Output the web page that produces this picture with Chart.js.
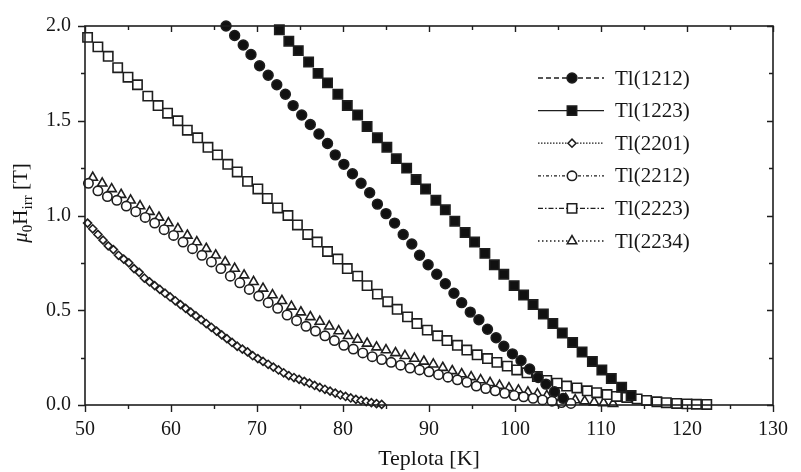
<!DOCTYPE html>
<html>
<head>
<meta charset="utf-8">
<script src="https://cdn.jsdelivr.net/npm/chart.js@4.4.1/dist/chart.umd.min.js"></script>
<style>
  body { margin: 0; background: #fff; }
  #wrap { width: 801px; height: 472px; }
</style>
</head>
<body>
<div id="wrap"><canvas id="myChart" width="801" height="472"></canvas></div>
<script>
// temperatures [K] and irreversibility field [T] per sample
var t1212 = [66.4, 67.4, 68.4, 69.3, 70.3, 71.3, 72.3, 73.3, 74.2, 75.2, 76.2, 77.2, 78.2, 79.1, 80.1, 81.1, 82.1, 83.1, 84.0, 85.0,
    86.0, 87.0, 88.0, 88.9, 89.9, 90.9, 91.9, 92.9, 93.8, 94.8, 95.8, 96.8, 97.8, 98.7, 99.7, 100.7, 101.7, 102.7, 103.6, 104.6, 105.6];
var h1212 = [2.00, 1.95, 1.90, 1.85, 1.79, 1.74, 1.69, 1.64, 1.58, 1.53, 1.48, 1.43, 1.38, 1.32, 1.27, 1.22, 1.17, 1.12, 1.06, 1.01,
    0.96, 0.90, 0.85, 0.79, 0.74, 0.69, 0.64, 0.59, 0.54, 0.49, 0.45, 0.40, 0.355, 0.31, 0.27, 0.235, 0.19, 0.145, 0.11, 0.07, 0.035];

var t1223 = [72.6, 73.7, 74.8, 76.0, 77.1, 78.2, 79.4, 80.5, 81.7, 82.8, 84.0, 85.1, 86.2, 87.4, 88.5, 89.6, 90.8, 91.9, 93.0, 94.2,
    95.3, 96.5, 97.6, 98.7, 99.9, 101.0, 102.1, 103.3, 104.4, 105.5, 106.7, 107.8, 109.0, 110.1, 111.2, 112.4, 113.5];
var h1223 = [1.98, 1.92, 1.87, 1.81, 1.75, 1.70, 1.64, 1.58, 1.53, 1.47, 1.41, 1.36, 1.30, 1.25, 1.19, 1.14, 1.08, 1.03, 0.97, 0.91,
    0.86, 0.80, 0.74, 0.69, 0.63, 0.58, 0.53, 0.48, 0.43, 0.38, 0.33, 0.28, 0.23, 0.185, 0.14, 0.094, 0.05];

var t2201 = [50.3, 50.9, 51.5, 52.1, 52.7, 53.3, 53.9, 54.5, 55.1, 55.7, 56.3, 56.9, 57.5, 58.1, 58.7, 59.3, 59.9, 60.5, 61.1, 61.7,
    62.3, 62.9, 63.5, 64.1, 64.7, 65.3, 65.9, 66.5, 67.1, 67.7, 68.3, 68.9, 69.5, 70.1, 70.7, 71.3, 71.9, 72.5, 73.1, 73.7,
    74.3, 74.9, 75.5, 76.1, 76.7, 77.3, 77.9, 78.5, 79.1, 79.7, 80.3, 80.9, 81.5, 82.1, 82.7, 83.3, 83.9, 84.5];
var h2201 = [0.96, 0.93, 0.90, 0.87, 0.84, 0.82, 0.79, 0.77, 0.75, 0.72, 0.70, 0.67, 0.65, 0.63, 0.61, 0.59, 0.57, 0.55, 0.53, 0.51,
    0.49, 0.47, 0.45, 0.43, 0.41, 0.39, 0.37, 0.35, 0.33, 0.31, 0.295, 0.28, 0.26, 0.245, 0.23, 0.215, 0.20, 0.185, 0.17, 0.155,
    0.145, 0.135, 0.125, 0.115, 0.103, 0.093, 0.083, 0.073, 0.063, 0.053, 0.045, 0.037, 0.030, 0.024, 0.018, 0.012, 0.007, 0.003];

var t2212 = [50.4, 51.5, 52.6, 53.7, 54.8, 55.9, 57.0, 58.1, 59.2, 60.3, 61.4, 62.5, 63.6, 64.7, 65.8, 66.9, 68.0, 69.1, 70.2, 71.3,
    72.4, 73.5, 74.6, 75.7, 76.8, 77.9, 79.0, 80.1, 81.2, 82.3, 83.4, 84.5, 85.6, 86.7, 87.8, 88.9, 90.0, 91.1, 92.2, 93.3,
    94.4, 95.5, 96.6, 97.7, 98.8, 99.9, 101.0, 102.1, 103.2, 104.3, 105.4, 106.5];
var h2212 = [1.17, 1.13, 1.10, 1.08, 1.05, 1.02, 0.99, 0.96, 0.925, 0.895, 0.86, 0.825, 0.79, 0.755, 0.72, 0.68, 0.645, 0.61, 0.575, 0.54,
    0.51, 0.475, 0.445, 0.415, 0.39, 0.365, 0.34, 0.315, 0.295, 0.275, 0.255, 0.24, 0.225, 0.21, 0.195, 0.185, 0.175, 0.16, 0.147, 0.133,
    0.12, 0.10, 0.087, 0.075, 0.062, 0.05, 0.043, 0.035, 0.027, 0.02, 0.013, 0.008];

var t2223 = [50.3, 51.5, 52.7, 53.8, 55.0, 56.1, 57.3, 58.5, 59.6, 60.8, 61.9, 63.1, 64.3, 65.4, 66.6, 67.7, 68.9, 70.1, 71.2, 72.4,
    73.6, 74.7, 75.9, 77.0, 78.2, 79.4, 80.5, 81.7, 82.8, 84.0, 85.2, 86.3, 87.5, 88.6, 89.8, 91.0, 92.1, 93.3, 94.4, 95.6,
    96.8, 97.9, 99.1, 100.2, 101.4, 102.6, 103.7, 104.9, 106.0, 107.2, 108.4, 109.5, 110.7, 111.8, 113.0, 114.2, 115.3, 116.5, 117.6, 118.8,
    120.0, 121.1, 122.3];
var h2223 = [1.94, 1.89, 1.84, 1.78, 1.73, 1.69, 1.63, 1.58, 1.54, 1.50, 1.45, 1.41, 1.36, 1.32, 1.27, 1.23, 1.18, 1.14, 1.09, 1.04,
    1.00, 0.95, 0.90, 0.86, 0.81, 0.77, 0.72, 0.68, 0.63, 0.585, 0.545, 0.505, 0.465, 0.43, 0.395, 0.365, 0.34, 0.315, 0.29, 0.265,
    0.245, 0.225, 0.205, 0.185, 0.17, 0.15, 0.13, 0.115, 0.10, 0.09, 0.075, 0.065, 0.055, 0.045, 0.04, 0.032, 0.024, 0.017, 0.012, 0.008,
    0.006, 0.004, 0.003];

var t2234 = [50.9, 52.0, 53.1, 54.2, 55.3, 56.4, 57.5, 58.6, 59.7, 60.8, 61.9, 63.0, 64.1, 65.2, 66.3, 67.4, 68.5, 69.6, 70.7, 71.8,
    72.9, 74.0, 75.1, 76.2, 77.3, 78.4, 79.5, 80.6, 81.7, 82.8, 83.9, 85.0, 86.1, 87.2, 88.3, 89.4, 90.5, 91.6, 92.7, 93.8,
    94.9, 96.0, 97.1, 98.2, 99.3, 100.4, 101.5, 102.6, 103.7, 104.8, 105.9, 107.0, 108.1, 109.2, 110.3, 111.4];
var h2234 = [1.20, 1.17, 1.14, 1.11, 1.08, 1.05, 1.02, 0.99, 0.96, 0.93, 0.895, 0.86, 0.825, 0.79, 0.755, 0.72, 0.685, 0.65, 0.615, 0.58,
    0.55, 0.52, 0.49, 0.465, 0.44, 0.415, 0.39, 0.365, 0.345, 0.325, 0.305, 0.29, 0.275, 0.26, 0.245, 0.23, 0.215, 0.197, 0.18, 0.163,
    0.148, 0.132, 0.117, 0.103, 0.09, 0.078, 0.067, 0.058, 0.049, 0.041, 0.033, 0.026, 0.02, 0.015, 0.01, 0.006];

var seriesNames = ['Tl(1212)', 'Tl(1223)', 'Tl(2201)', 'Tl(2212)', 'Tl(2223)', 'Tl(2234)'];

var xTicks = [50, 60, 70, 80, 90, 100, 110, 120, 130];
var xMinorTicks = [55, 65, 75, 85, 95, 105, 115, 125];
var yTicks = [0, 0.5, 1.0, 1.5, 2.0];
var yMinorTicks = [0.25, 0.75, 1.25, 1.75];

var xTitle = 'Teplota [K]';

var serif = "'Liberation Serif', 'DejaVu Serif', serif";
var ink = '#161616';

function pts(t, h) {
    return t.map(function (x, i) { return { x: x, y: h[i] }; });
}

function makeSet(label, t, h, style, radius, filled, dash) {
    return {
        label: label,
        data: pts(t, h),
        showLine: false,
        pointStyle: style,
        pointRadius: radius,
        pointHoverRadius: radius,
        pointBackgroundColor: filled ? '#111' : '#ffffff',
        pointBorderColor: '#1e1e1e',
        pointBorderWidth: 1.6,
        borderColor: '#1e1e1e',
        borderDash: dash,
        clip: 8
    };
}

var datasets = [
    makeSet(seriesNames[0], t1212, h1212, 'circle', 4.9, true, [5, 3]),
    makeSet(seriesNames[1], t1223, h1223, 'rect', 6.6, true, []),
    makeSet(seriesNames[2], t2201, h2201, 'rectRot', 4.0, false, [1.5, 1.5]),
    makeSet(seriesNames[3], t2212, h2212, 'circle', 4.7, false, [3, 2, 1, 2]),
    makeSet(seriesNames[4], t2223, h2223, 'rect', 6.6, false, [5, 2, 1.5, 2]),
    makeSet(seriesNames[5], t2234, h2234, 'triangle', 5.4, false, [1.5, 2.5])
];

// frame, inward/outward tick marks, legend and y title
var decorPlugin = {
    id: 'decor',
    afterDatasetsDraw: function (chart) {
        var ctx = chart.ctx;
        var a = chart.chartArea;
        var xs = chart.scales.x, ys = chart.scales.y;
        ctx.save();
        ctx.strokeStyle = '#1e1e1e';
        ctx.lineWidth = 1.6;
        ctx.setLineDash([]);
        ctx.strokeRect(a.left, a.top, a.right - a.left, a.bottom - a.top);

        ctx.lineWidth = 1.4;
        ctx.beginPath();
        xTicks.concat(xMinorTicks).forEach(function (v) {
            var major = xTicks.indexOf(v) >= 0;
            var px = Math.round(xs.getPixelForValue(v)) + 0.5;
            ctx.moveTo(px, a.bottom); ctx.lineTo(px, a.bottom + (major ? 7 : 4));
            ctx.moveTo(px, a.top); ctx.lineTo(px, a.top + (major ? 6 : 4));
        });
        yTicks.concat(yMinorTicks).forEach(function (v) {
            var major = yTicks.indexOf(v) >= 0;
            var py = Math.round(ys.getPixelForValue(v)) + 0.5;
            ctx.moveTo(a.left, py); ctx.lineTo(a.left - (major ? 7 : 4), py);
            ctx.moveTo(a.right, py); ctx.lineTo(a.right - (major ? 6 : 4), py);
        });
        ctx.stroke();
        ctx.restore();
    },
    afterDraw: function (chart) {
        var ctx = chart.ctx;
        ctx.save();
        // legend
        chart.data.datasets.forEach(function (ds, i) {
            var y = 78 + i * 32.6;
            ctx.strokeStyle = '#1e1e1e';
            ctx.lineWidth = 1.3;
            ctx.setLineDash(ds.borderDash);
            ctx.beginPath();
            ctx.moveTo(538, y); ctx.lineTo(604, y);
            ctx.stroke();
            ctx.setLineDash([]);
            ctx.fillStyle = ds.pointBackgroundColor;
            ctx.strokeStyle = ds.pointBorderColor;
            ctx.lineWidth = ds.pointBorderWidth;
            Chart.helpers.drawPoint(ctx, {
                pointStyle: ds.pointStyle, rotation: 0,
                radius: ds.pointRadius, borderWidth: ds.pointBorderWidth
            }, 572, y);
            ctx.fillStyle = ink;
            ctx.font = '21px ' + serif;
            ctx.textAlign = 'left';
            ctx.textBaseline = 'middle';
            ctx.fillText(ds.label, 615, y + 1);
        });

        // rotated y title with subscripts
        var parts = [
            { t: '\u03bc', f: 'italic 21px ' + serif, dy: 0 },
            { t: '0', f: '15px ' + serif, dy: 5 },
            { t: 'H', f: '21px ' + serif, dy: 0 },
            { t: 'irr', f: '15px ' + serif, dy: 5 },
            { t: ' [T]', f: '21px ' + serif, dy: 0 }
        ];
        var total = 0;
        parts.forEach(function (p) { ctx.font = p.f; p.w = ctx.measureText(p.t).width; total += p.w; });
        ctx.translate(27, 203);
        ctx.rotate(-Math.PI / 2);
        ctx.fillStyle = ink;
        ctx.textAlign = 'left';
        ctx.textBaseline = 'alphabetic';
        var x = -total / 2;
        parts.forEach(function (p) {
            ctx.font = p.f;
            ctx.fillText(p.t, x, p.dy);
            x += p.w;
        });
        ctx.restore();
    }
};

const config = {
    type: 'scatter',
    data: { datasets: datasets },
    options: {
        responsive: false,
        animation: false,
        devicePixelRatio: 1,
        layout: { padding: { top: 24, right: 17, left: 0, bottom: 0 } },
        plugins: { legend: { display: false }, tooltip: { enabled: false } },
        scales: {
            x: {
                type: 'linear', position: 'bottom', min: 50, max: 130,
                afterBuildTicks: function (s) { s.ticks = xTicks.map(function (v) { return { value: v }; }); },
                afterFit: function (s) { s.height = 67; },
                grid: { display: false, drawTicks: false },
                border: { display: false },
                ticks: {
                    font: { family: serif, size: 20 }, color: ink, padding: 13,
                    maxRotation: 0, autoSkip: false,
                    callback: function (v) { return String(v); }
                },
                title: { display: true, text: xTitle, font: { family: serif, size: 22 }, color: ink, padding: 0 }
            },
            y: {
                type: 'linear', position: 'left', min: 0, max: 2,
                afterBuildTicks: function (s) { s.ticks = yTicks.map(function (v) { return { value: v }; }); },
                afterFit: function (s) { s.width = 85; },
                grid: { display: false, drawTicks: false },
                border: { display: false },
                ticks: {
                    font: { family: serif, size: 20 }, color: ink, padding: 14, autoSkip: false,
                    callback: function (v) { return v.toFixed(1); }
                }
            }
        }
    },
    plugins: [decorPlugin]
};

const myChart = new Chart(document.getElementById('myChart'), config);
</script>
</body>
</html>
